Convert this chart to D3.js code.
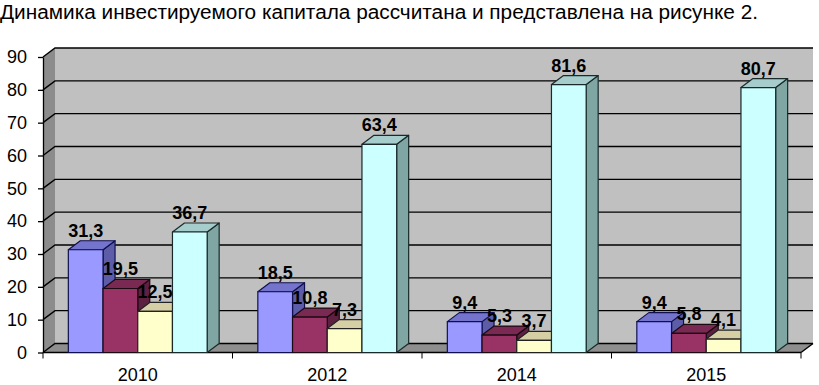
<!DOCTYPE html>
<html>
<head>
<meta charset="utf-8">
<script src="https://cdn.jsdelivr.net/npm/d3@7"></script>
<style>
  body { margin: 0; background: #fff; }
  svg { display: block; font-family: "Liberation Sans", Arial, sans-serif; }
</style>
</head>
<body>
<div id="chart"></div>
<script>
const title = "Динамика инвестируемого капитала рассчитана и представлена на рисунке 2.";
const years = ["2010", "2012", "2014", "2015"];
const seriesKeys = ["s1", "s2", "s3", "s4"];
const s1 = [31.3, 18.5, 9.4, 9.4];
const s2 = [19.5, 10.8, 5.3, 5.8];
const s3 = [12.5, 7.3, 3.7, 4.1];
const s4 = [36.7, 63.4, 81.6, 80.7];
const yTicks = [0, 10, 20, 30, 40, 50, 60, 70, 80, 90];

const colors = {
  s1: { front: "#9999ff", top: "#7474cc", side: "#5c5ca8", stroke: "#101050" },
  s2: { front: "#993366", top: "#7a2a52", side: "#5e2040", stroke: "#1a0a12" },
  s3: { front: "#ffffcc", top: "#d6cfa6", side: "#aca888", stroke: "#222" },
  s4: { front: "#ccffff", top: "#a6cccc", side: "#7fa6a3", stroke: "#1a2a2a" },
};

const data = [];
years.forEach((yr, i) => {
  [s1, s2, s3, s4].forEach((arr, j) => {
    data.push({ year: yr, key: seriesKeys[j], value: arr[i] });
  });
});

const W = 819, H = 385;
const left = 43, right = 801, bottom = 352.5, topY = 57;
const dx = 12, dy = -9; // depth offset

const svg = d3.select("#chart").append("svg").attr("width", W).attr("height", H);

svg.append("text")
  .attr("x", 0).attr("y", 19)
  .attr("font-size", 19.5)
  .attr("textLength", 758)
  .attr("lengthAdjust", "spacingAndGlyphs")
  .attr("fill", "#000")
  .text(title);

const x = d3.scaleBand().domain(years).range([left, right]);
const xInner = d3.scaleBand().domain(seriesKeys).range([0, x.bandwidth()]).paddingInner(0).paddingOuter(0.73);
const y = d3.scaleLinear().domain([0, 90]).range([bottom, topY]);

// side wall
svg.append("path")
  .attr("d", `M${left},${y(90)}L${left + dx},${y(90) + dy}L${left + dx},${y(0) + dy}L${left},${y(0)}Z`)
  .attr("fill", "#8c8c8c");
// back wall
svg.append("rect")
  .attr("x", left + dx).attr("y", y(90) + dy)
  .attr("width", right - left).attr("height", y(0) - y(90))
  .attr("fill", "#c0c0c0");
// floor
svg.append("path")
  .attr("d", `M${left},${y(0)}L${right},${y(0)}L${right + dx},${y(0) + dy}L${left + dx},${y(0) + dy}Z`)
  .attr("fill", "#8e8e8e");

// gridlines on back and side wall
const grid = svg.append("g").attr("stroke", "#000").attr("stroke-width", 1.4).attr("fill", "none");
yTicks.forEach((t) => {
  grid.append("path")
    .attr("d", `M${left},${y(t)}L${left + dx},${y(t) + dy}L${right + dx},${y(t) + dy}`);
});
grid.append("line")
  .attr("x1", right).attr("y1", y(0)).attr("x2", right + dx).attr("y2", y(0) + dy);

// y axis
svg.append("g")
  .attr("transform", `translate(${left},0)`)
  .call(d3.axisLeft(y).tickValues(yTicks).tickSize(5).tickSizeOuter(0).tickPadding(11))
  .call((g) => g.selectAll("text").attr("font-size", 18).attr("fill", "#000").attr("font-family", "Liberation Sans, Arial, sans-serif"))
  .call((g) => g.selectAll("line,path").attr("stroke", "#000").attr("stroke-width", 1.3));

// x axis line with boundary ticks
svg.append("line")
  .attr("x1", left).attr("x2", right).attr("y1", y(0)).attr("y2", y(0))
  .attr("stroke", "#000").attr("stroke-width", 1.3);
svg.selectAll(".xtick")
  .data(years.map((yr) => x(yr)).concat([right]))
  .enter().append("line")
  .attr("x1", (d) => d).attr("x2", (d) => d)
  .attr("y1", y(0)).attr("y2", y(0) + 6)
  .attr("stroke", "#000").attr("stroke-width", 1);
svg.selectAll(".xlabel")
  .data(years)
  .enter().append("text")
  .attr("x", (d) => x(d) + x.bandwidth() / 2)
  .attr("y", 381)
  .attr("text-anchor", "middle")
  .attr("font-size", 18)
  .text((d) => d);

// bars
const w = xInner.bandwidth();
const bars = svg.append("g");
data.forEach((d) => {
  const x0 = x(d.year) + xInner(d.key);
  const yv = y(d.value), y0 = y(0);
  const c = colors[d.key];
  const g = bars.append("g").attr("stroke", c.stroke).attr("stroke-width", 1.2).attr("stroke-linejoin", "round");
  g.append("path")
    .attr("d", `M${x0 + w},${yv}L${x0 + w + dx},${yv + dy}L${x0 + w + dx},${y0 + dy}L${x0 + w},${y0}Z`)
    .attr("fill", c.side);
  g.append("path")
    .attr("d", `M${x0},${yv}L${x0 + dx},${yv + dy}L${x0 + w + dx},${yv + dy}L${x0 + w},${yv}Z`)
    .attr("fill", c.top);
  g.append("rect")
    .attr("x", x0).attr("y", yv).attr("width", w).attr("height", y0 - yv)
    .attr("fill", c.front);
});

// value labels
svg.append("g").selectAll("text")
  .data(data)
  .enter().append("text")
  .attr("x", (d) => x(d.year) + xInner(d.key) + w / 2)
  .attr("y", (d) => y(d.value) + dy - 4)
  .attr("text-anchor", "middle")
  .attr("font-size", 18)
  .attr("font-weight", "bold")
  .text((d) => String(d.value).replace(".", ","));
</script>
</body>
</html>
